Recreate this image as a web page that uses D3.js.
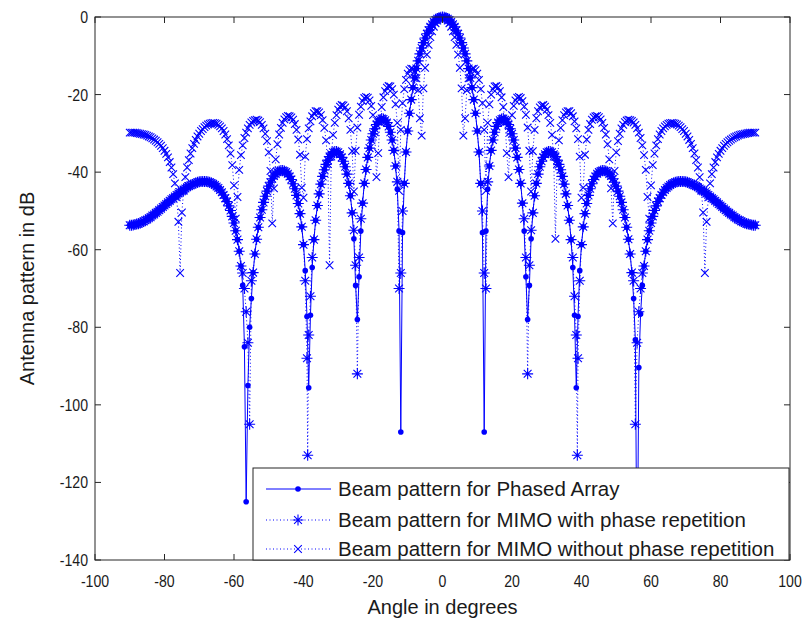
<!DOCTYPE html>
<html>
<head>
<meta charset="utf-8">
<script src="https://cdn.jsdelivr.net/npm/d3@7"></script>
<style>
  html, body { margin: 0; padding: 0; background: #ffffff; }
  svg { display: block; }
  text { font-family: "Liberation Sans", Arial, sans-serif; fill: #1a1a1a; }
</style>
</head>
<body>
<svg id="chart" width="808" height="622"></svg>
<script>
// ---------------- DATA ----------------
// angle grid (degrees)
const angles = [
-90,-89.5,-89,-88.5,-88,-87.5,-87,-86.5,-86,-85.5,
-85,-84.5,-84,-83.5,-83,-82.5,-82,-81.5,-81,-80.5,
-80,-79.5,-79,-78.5,-78,-77.5,-77,-76.5,-76,-75.5,
-75,-74.5,-74,-73.5,-73,-72.5,-72,-71.5,-71,-70.5,
-70,-69.5,-69,-68.5,-68,-67.5,-67,-66.5,-66,-65.5,
-65,-64.5,-64,-63.5,-63,-62.5,-62,-61.5,-61,-60.5,
-60,-59.5,-59,-58.5,-58,-57.5,-57,-56.5,-56,-55.5,
-55,-54.5,-54,-53.5,-53,-52.5,-52,-51.5,-51,-50.5,
-50,-49.5,-49,-48.5,-48,-47.5,-47,-46.5,-46,-45.5,
-45,-44.5,-44,-43.5,-43,-42.5,-42,-41.5,-41,-40.5,
-40,-39.5,-39,-38.5,-38,-37.5,-37,-36.5,-36,-35.5,
-35,-34.5,-34,-33.5,-33,-32.5,-32,-31.5,-31,-30.5,
-30,-29.5,-29,-28.5,-28,-27.5,-27,-26.5,-26,-25.5,
-25,-24.5,-24,-23.5,-23,-22.5,-22,-21.5,-21,-20.5,
-20,-19.5,-19,-18.5,-18,-17.5,-17,-16.5,-16,-15.5,
-15,-14.5,-14,-13.5,-13,-12.5,-12,-11.5,-11,-10.5,
-10,-9.5,-9,-8.5,-8,-7.5,-7,-6.5,-6,-5.5,
-5,-4.5,-4,-3.5,-3,-2.5,-2,-1.5,-1,-0.5,
0,
0.5,1,1.5,2,2.5,3,3.5,4,4.5,5,
5.5,6,6.5,7,7.5,8,8.5,9,9.5,10,
10.5,11,11.5,12,12.5,13,13.5,14,14.5,15,
15.5,16,16.5,17,17.5,18,18.5,19,19.5,20,
20.5,21,21.5,22,22.5,23,23.5,24,24.5,25,
25.5,26,26.5,27,27.5,28,28.5,29,29.5,30,
30.5,31,31.5,32,32.5,33,33.5,34,34.5,35,
35.5,36,36.5,37,37.5,38,38.5,39,39.5,40,
40.5,41,41.5,42,42.5,43,43.5,44,44.5,45,
45.5,46,46.5,47,47.5,48,48.5,49,49.5,50,
50.5,51,51.5,52,52.5,53,53.5,54,54.5,55,
55.5,56,56.5,57,57.5,58,58.5,59,59.5,60,
60.5,61,61.5,62,62.5,63,63.5,64,64.5,65,
65.5,66,66.5,67,67.5,68,68.5,69,69.5,70,
70.5,71,71.5,72,72.5,73,73.5,74,74.5,75,
75.5,76,76.5,77,77.5,78,78.5,79,79.5,80,
80.5,81,81.5,82,82.5,83,83.5,84,84.5,85,
85.5,86,86.5,87,87.5,88,88.5,89,89.5,90];

// Beam pattern for Phased Array (dB)
const phasedDb = [
-53.7,-53.7,-53.6,-53.5,-53.4,-53.3,-53.1,-52.9,-52.7,-52.4,
-52.2,-51.9,-51.6,-51.2,-50.9,-50.5,-50.2,-49.8,-49.4,-49.0,
-48.6,-48.2,-47.8,-47.4,-47.0,-46.7,-46.3,-45.9,-45.5,-45.2,
-44.9,-44.5,-44.2,-43.9,-43.6,-43.4,-43.2,-43.0,-42.8,-42.6,
-42.5,-42.4,-42.4,-42.4,-42.4,-42.5,-42.6,-42.8,-43.0,-43.3,
-43.7,-44.1,-44.6,-45.2,-45.9,-46.7,-47.6,-48.7,-49.9,-51.4,
-53.1,-55.1,-57.4,-60.4,-64.2,-69.2,-85,-125,-95,-80,
-72.6,-65.9,-61.1,-57.3,-54.2,-51.7,-49.7,-47.8,-46.2,-44.9,
-43.6,-42.6,-41.7,-41.0,-40.5,-40.0,-39.7,-39.6,-39.6,-39.7,
-40.0,-40.4,-41.1,-41.9,-43.0,-44.3,-46.0,-48.1,-50.7,-54.1,
-58.7,-65.4,-77.2,-95.6,-76.9,-64.6,-57.4,-52.4,-48.6,-45.6,
-43.1,-41.1,-39.4,-38.0,-36.9,-36.0,-35.4,-34.9,-34.7,-34.7,
-34.9,-35.4,-36.2,-37.2,-38.6,-40.5,-42.9,-46.1,-50.5,-57.2,
-69.2,-78,-67,-55.2,-48.0,-42.9,-39.3,-36.2,-33.8,-31.7,
-30.1,-28.8,-27.7,-27.0,-26.5,-26.2,-26.3,-26.6,-27.2,-28.2,
-29.7,-31.7,-34.4,-38.4,-44.4,-55.2,-107,-55.6,-42.9,-34.8,
-29.4,-24.8,-21.3,-18.2,-15.7,-13.3,-11.3,-9.5,-8.0,-6.6,
-5.4,-4.3,-3.4,-2.55,-1.9,-1.28,-0.8,-0.46,-0.2,-0.05,
0,
-0.05,-0.2,-0.46,-0.8,-1.28,-1.9,-2.55,-3.4,-4.3,-5.4,
-6.6,-8.0,-9.5,-11.3,-13.3,-15.7,-18.2,-21.3,-24.8,-29.4,
-34.8,-42.9,-55.6,-107,-55.2,-44.4,-38.4,-34.4,-31.7,-29.7,
-28.2,-27.2,-26.6,-26.3,-26.2,-26.5,-27.0,-27.7,-28.8,-30.1,
-31.7,-33.8,-36.2,-39.3,-42.9,-48.0,-55.2,-67,-78,-69.2,
-57.2,-50.5,-46.1,-42.9,-40.5,-38.6,-37.2,-36.2,-35.4,-34.9,
-34.7,-34.7,-34.9,-35.4,-36.0,-36.9,-38.0,-39.4,-41.1,-43.1,
-45.6,-48.6,-52.4,-57.4,-64.6,-76.9,-95.6,-77.2,-65.4,-58.7,
-54.1,-50.7,-48.1,-46.0,-44.3,-43.0,-41.9,-41.1,-40.4,-40.0,
-39.7,-39.6,-39.6,-39.7,-40.0,-40.5,-41.0,-41.7,-42.6,-43.6,
-44.9,-46.2,-47.8,-49.7,-51.7,-54.2,-57.3,-61.1,-65.9,-72.6,
-83.2,-150,-90.4,-76.6,-69.2,-64.2,-60.4,-57.4,-55.1,-53.1,
-51.4,-49.9,-48.7,-47.6,-46.7,-45.9,-45.2,-44.6,-44.1,-43.7,
-43.3,-43.0,-42.8,-42.6,-42.5,-42.4,-42.4,-42.4,-42.4,-42.5,
-42.6,-42.8,-43.0,-43.2,-43.4,-43.6,-43.9,-44.2,-44.5,-44.9,
-45.2,-45.5,-45.9,-46.3,-46.7,-47.0,-47.4,-47.8,-48.2,-48.6,
-49.0,-49.4,-49.8,-50.2,-50.5,-50.9,-51.2,-51.6,-51.9,-52.2,
-52.4,-52.7,-52.9,-53.1,-53.3,-53.4,-53.5,-53.6,-53.7,-53.7];

// Beam pattern for MIMO with phase repetition (dB)
const mimoRepDb = [
-53.7,-53.7,-53.6,-53.5,-53.4,-53.3,-53.1,-52.9,-52.7,-52.4,
-52.2,-51.9,-51.6,-51.2,-50.9,-50.5,-50.2,-49.8,-49.4,-49.0,
-48.6,-48.2,-47.8,-47.4,-47.0,-46.7,-46.3,-45.9,-45.5,-45.2,
-44.9,-44.5,-44.2,-43.9,-43.6,-43.4,-43.2,-43.0,-42.8,-42.6,
-42.5,-42.4,-42.4,-42.4,-42.4,-42.5,-42.6,-42.8,-43.0,-43.3,
-43.7,-44.1,-44.6,-45.2,-45.9,-46.7,-47.6,-48.7,-49.9,-51.4,
-53.1,-55.1,-57.4,-60.4,-64.2,-66,-70,-76,-84,-105,
-68,-65.9,-61.1,-57.3,-54.2,-51.7,-49.7,-47.8,-46.2,-44.9,
-43.6,-42.6,-41.7,-41.0,-40.5,-40.0,-39.7,-39.6,-39.6,-39.7,
-40.0,-40.4,-41.1,-41.9,-43.0,-44.3,-46.0,-48.1,-50.7,-54.1,
-58.7,-68,-88,-82,-72,-62,-57.4,-52.4,-48.6,-45.6,
-43.1,-41.1,-39.4,-38.0,-36.9,-36.0,-35.4,-34.9,-34.7,-34.7,
-34.9,-35.4,-36.2,-37.2,-38.6,-40.5,-42.9,-46.1,-50.5,-55,
-64,-92,-62,-52,-48.0,-42.9,-39.3,-36.2,-33.8,-31.7,
-30.1,-28.8,-27.7,-27.0,-26.5,-26.2,-26.3,-26.6,-27.2,-28.2,
-29.7,-31.7,-34.4,-38.4,-42.5,-70,-66,-50,-42.9,-34.8,
-29.4,-24.8,-21.3,-18.2,-15.7,-13.3,-11.3,-9.5,-8.0,-6.6,
-5.4,-4.3,-3.4,-2.55,-1.9,-1.28,-0.8,-0.46,-0.2,-0.05,
0,
-0.05,-0.2,-0.46,-0.8,-1.28,-1.9,-2.55,-3.4,-4.3,-5.4,
-6.6,-8.0,-9.5,-11.3,-13.3,-15.7,-18.2,-21.3,-24.8,-29.4,
-34.8,-42.9,-50,-66,-70,-42.5,-38.4,-34.4,-31.7,-29.7,
-28.2,-27.2,-26.6,-26.3,-26.2,-26.5,-27.0,-27.7,-28.8,-30.1,
-31.7,-33.8,-36.2,-39.3,-42.9,-48.0,-52,-62,-92,-64,
-55,-50.5,-46.1,-42.9,-40.5,-38.6,-37.2,-36.2,-35.4,-34.9,
-34.7,-34.7,-34.9,-35.4,-36.0,-36.9,-38.0,-39.4,-41.1,-43.1,
-45.6,-48.6,-52.4,-57.4,-62,-72,-82,-88,-68,-58.7,
-54.1,-50.7,-48.1,-46.0,-44.3,-43.0,-41.9,-41.1,-40.4,-40.0,
-39.7,-39.6,-39.6,-39.7,-40.0,-40.5,-41.0,-41.7,-42.6,-43.6,
-44.9,-46.2,-47.8,-49.7,-51.7,-54.2,-57.3,-61.1,-65.9,-68,
-105,-84,-76,-70,-66,-64.2,-60.4,-57.4,-55.1,-53.1,
-51.4,-49.9,-48.7,-47.6,-46.7,-45.9,-45.2,-44.6,-44.1,-43.7,
-43.3,-43.0,-42.8,-42.6,-42.5,-42.4,-42.4,-42.4,-42.4,-42.5,
-42.6,-42.8,-43.0,-43.2,-43.4,-43.6,-43.9,-44.2,-44.5,-44.9,
-45.2,-45.5,-45.9,-46.3,-46.7,-47.0,-47.4,-47.8,-48.2,-48.6,
-49.0,-49.4,-49.8,-50.2,-50.5,-50.9,-51.2,-51.6,-51.9,-52.2,
-52.4,-52.7,-52.9,-53.1,-53.3,-53.4,-53.5,-53.6,-53.7,-53.7];
// extra samples at the deepest nulls of the MIMO (phase repetition) pattern
const mimoRepNullAngles = [-38.8, 38.8];
const mimoRepNullDb     = [-113, -113];

// Beam pattern for MIMO without phase repetition (dB)
const mimoNoRepDb = [
-29.8,-29.8,-29.8,-29.8,-29.9,-30.0,-30.1,-30.2,-30.3,-30.4,
-30.6,-30.8,-31.0,-31.3,-31.6,-31.9,-32.3,-32.7,-33.2,-33.8,
-34.5,-35.3,-36.2,-37.4,-38.8,-40.5,-42.9,-46.5,-52.8,-66,
-50.4,-44.8,-41.3,-38.8,-36.9,-35.2,-33.8,-32.7,-31.7,-30.8,
-30.1,-29.4,-28.9,-28.4,-28.0,-27.7,-27.5,-27.4,-27.3,-27.4,
-27.5,-27.8,-28.2,-28.7,-29.4,-30.3,-31.5,-33.1,-35.2,-38.2,
-43.4,-52,-46.4,-39.4,-35.6,-33.1,-31.2,-29.8,-28.7,-27.8,
-27.2,-26.8,-26.6,-26.5,-26.7,-27.1,-27.8,-28.7,-30.1,-32.0,
-34.9,-39.7,-53.2,-44.2,-36.7,-32.8,-30.3,-28.6,-27.3,-26.4,
-25.8,-25.5,-25.6,-25.9,-26.5,-27.6,-29.1,-31.6,-35.5,-44.0,
-46.6,-36.0,-31.5,-28.7,-26.9,-25.6,-24.8,-24.3,-24.3,-24.6,
-25.3,-26.6,-28.6,-31.8,-37.9,-64,-36.0,-30.4,-27.3,-25.3,
-23.9,-23.1,-22.7,-22.8,-23.3,-24.3,-26.1,-29.1,-34.6,-45,
-34.5,-28.5,-25.2,-23.1,-21.7,-20.9,-20.6,-20.8,-21.5,-22.9,
-25.3,-29.7,-41.3,-35.1,-27.1,-23.2,-20.7,-19.1,-18.2,-17.8,
-17.9,-18.6,-20.0,-22.5,-27.3,-44.8,-29.1,-22.2,-18.6,-16.2,
-14.6,-13.7,-13.3,-13.4,-14.1,-15.8,-18.9,-26.1,-30.6,-18.4,
-13.1,-9.7,-7.2,-5.2,-3.7,-2.5,-1.6,-0.9,-0.4,-0.1,
0,
-0.1,-0.4,-0.9,-1.6,-2.5,-3.7,-5.2,-7.2,-9.7,-13.1,
-18.4,-30.6,-26.1,-18.9,-15.8,-14.1,-13.4,-13.3,-13.7,-14.6,
-16.2,-18.6,-22.2,-29.1,-44.8,-27.3,-22.5,-20.0,-18.6,-17.9,
-17.8,-18.2,-19.1,-20.7,-23.2,-27.1,-35.1,-41.3,-29.7,-25.3,
-22.9,-21.5,-20.8,-20.6,-20.9,-21.7,-23.1,-25.2,-28.5,-34.5,
-45,-34.6,-29.1,-26.1,-24.3,-23.3,-22.8,-22.7,-23.1,-23.9,
-25.3,-27.3,-30.4,-36.0,-57.2,-37.9,-31.8,-28.6,-26.6,-25.3,
-24.6,-24.3,-24.3,-24.8,-25.6,-26.9,-28.7,-31.5,-36.0,-46.6,
-44.0,-35.5,-31.6,-29.1,-27.6,-26.5,-25.9,-25.6,-25.5,-25.8,
-26.4,-27.3,-28.6,-30.3,-32.8,-36.7,-44.2,-53.2,-39.7,-34.9,
-32.0,-30.1,-28.7,-27.8,-27.1,-26.7,-26.5,-26.6,-26.8,-27.2,
-27.8,-28.7,-29.8,-31.2,-33.1,-35.6,-39.4,-46.4,-52,-43.4,
-38.2,-35.2,-33.1,-31.5,-30.3,-29.4,-28.7,-28.2,-27.8,-27.5,
-27.4,-27.3,-27.4,-27.5,-27.7,-28.0,-28.4,-28.9,-29.4,-30.1,
-30.8,-31.7,-32.7,-33.8,-35.2,-36.9,-38.8,-41.3,-44.8,-50.4,
-66,-52.8,-46.5,-42.9,-40.5,-38.8,-37.4,-36.2,-35.3,-34.5,
-33.8,-33.2,-32.7,-32.3,-31.9,-31.6,-31.3,-31.0,-30.8,-30.6,
-30.4,-30.3,-30.2,-30.1,-30.0,-29.9,-29.8,-29.8,-29.8,-29.8];

const xTicks = [-100,-80,-60,-40,-20,0,20,40,60,80,100];
const yTicks = [0,-20,-40,-60,-80,-100,-120,-140];
const seriesNames = [
  "Beam pattern for Phased Array",
  "Beam pattern for MIMO with phase repetition",
  "Beam pattern for MIMO without phase repetition"
];
const xLabel = "Angle in degrees";
const yLabel = "Antenna pattern in dB";

// ---------------- CHART ----------------
const W = 808, H = 622;
const M = {left: 95, right: 18, top: 17, bottom: 62};
const pw = W - M.left - M.right, ph = H - M.top - M.bottom;
const blue = "#0000ff";
const axisColor = "#262626";
const tickCondense = 0.83;

const svg = d3.select("#chart");
const x = d3.scaleLinear().domain([-100, 100]).range([M.left, M.left + pw]);
const y = d3.scaleLinear().domain([-140, 0]).range([M.top + ph, M.top]);

function merge(ang, vals, extraA, extraV) {
  const pts = ang.map((a, i) => ({a: a, v: vals[i]}));
  extraA.forEach((a, i) => pts.push({a: a, v: extraV[i]}));
  pts.sort((p, q) => p.a - q.a);
  return pts;
}
const series = [
  {name: seriesNames[0], pts: merge(angles, phasedDb, [], []), dash: null, marker: "dot"},
  {name: seriesNames[1], pts: merge(angles, mimoRepDb, mimoRepNullAngles, mimoRepNullDb), dash: "1,2.5", marker: "star"},
  {name: seriesNames[2], pts: merge(angles, mimoNoRepDb, [], []), dash: "1,2.5", marker: "x"}
];

svg.append("rect").attr("x", 0).attr("y", 0).attr("width", W).attr("height", H).attr("fill", "#fff");
svg.append("defs").append("clipPath").attr("id", "plotclip")
  .append("rect").attr("x", M.left).attr("y", M.top).attr("width", pw).attr("height", ph);

const line = d3.line().x(d => x(d.a)).y(d => y(d.v));

function markerPath(type) {
  if (type === "star") {
    const s = 5.5, t = 3.9;
    return `M${-s},0L${s},0M0,${-s}L0,${s}M${-t},${-t}L${t},${t}M${-t},${t}L${t},${-t}`;
  }
  const t = 3.8;
  return `M${-t},${-t}L${t},${t}M${-t},${t}L${t},${-t}`;
}
function drawMarker(g, type, cx, cy) {
  if (type === "dot") {
    g.append("circle").attr("cx", cx).attr("cy", cy).attr("r", 2.8).attr("fill", blue);
  } else {
    g.append("path").attr("transform", `translate(${cx},${cy})`).attr("d", markerPath(type))
      .attr("fill", "none").attr("stroke", blue).attr("stroke-width", 1.1);
  }
}

const dataG = svg.append("g");
[0, 1, 2].forEach(i => {
  const s = series[i];
  dataG.append("path").datum(s.pts).attr("clip-path", "url(#plotclip)")
    .attr("d", line).attr("fill", "none").attr("stroke", blue).attr("stroke-width", 1)
    .attr("stroke-dasharray", s.dash);
  const mg = dataG.append("g");
  s.pts.filter(p => p.v >= -140 && p.v <= 0).forEach(p => drawMarker(mg, s.marker, x(p.a), y(p.v)));
});

// axes box
const axG = svg.append("g");
axG.append("rect").attr("x", M.left).attr("y", M.top).attr("width", pw).attr("height", ph)
  .attr("fill", "none").attr("stroke", axisColor).attr("stroke-width", 1);
const tl = 6;
function condensed(sel) {
  sel.each(function() {
    const w = this.getComputedTextLength();
    d3.select(this).attr("textLength", w * tickCondense).attr("lengthAdjust", "spacingAndGlyphs");
  });
}
xTicks.forEach(t => {
  axG.append("line").attr("x1", x(t)).attr("x2", x(t)).attr("y1", M.top + ph).attr("y2", M.top + ph - tl).attr("stroke", axisColor);
  axG.append("line").attr("x1", x(t)).attr("x2", x(t)).attr("y1", M.top).attr("y2", M.top + tl).attr("stroke", axisColor);
  axG.append("text").attr("x", x(t)).attr("y", M.top + ph + 27).attr("text-anchor", "middle")
    .attr("font-size", 17).text(t).call(condensed);
});
yTicks.forEach(t => {
  axG.append("line").attr("x1", M.left).attr("x2", M.left + tl).attr("y1", y(t)).attr("y2", y(t)).attr("stroke", axisColor);
  axG.append("line").attr("x1", M.left + pw).attr("x2", M.left + pw - tl).attr("y1", y(t)).attr("y2", y(t)).attr("stroke", axisColor);
  axG.append("text").attr("x", M.left - 7).attr("y", y(t) + 6).attr("text-anchor", "end")
    .attr("font-size", 17).text(t).call(condensed);
});
svg.append("text").attr("x", x(0)).attr("y", 614).attr("text-anchor", "middle").attr("font-size", 20).text(xLabel);
svg.append("text").attr("transform", `translate(34,${M.top + ph / 2}) rotate(-90)`).attr("text-anchor", "middle")
  .attr("font-size", 20).text(yLabel);

// legend
const lg = svg.append("g");
const lx = 253, ly = 468, lw = 536, lh = 92;
lg.append("rect").attr("x", lx).attr("y", ly).attr("width", lw).attr("height", lh)
  .attr("fill", "#fff").attr("stroke", axisColor).attr("stroke-width", 1);
const rowY = [489, 520, 549];
series.forEach((s, i) => {
  lg.append("line").attr("x1", 266).attr("x2", 331).attr("y1", rowY[i]).attr("y2", rowY[i])
    .attr("stroke", blue).attr("stroke-width", 1).attr("stroke-dasharray", s.dash);
  drawMarker(lg, s.marker, 298, rowY[i]);
  lg.append("text").attr("x", 338).attr("y", rowY[i] + 7).attr("font-size", 20.5).text(s.name);
});
</script>
</body>
</html>
